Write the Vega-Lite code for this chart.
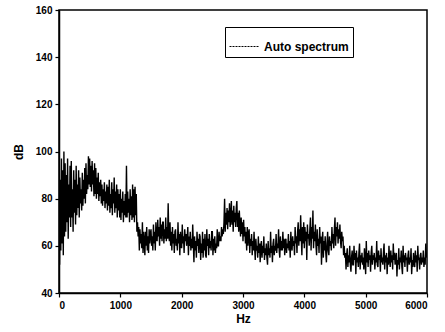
{
  "$schema": "https://vega.github.io/schema/vega-lite/v6.json",
  "autosize": {"type": "none"},
  "padding": {"left": 59, "top": 10, "right": 18, "bottom": 39},
  "width": 368,
  "height": 283,
  "background": "white",
  "config": {
    "view": {"stroke": "black", "strokeWidth": 1.5},
    "font": "Liberation Sans",
    "axis": {
      "grid": false,
      "domainColor": "black",
      "domainWidth": 1.5,
      "tickColor": "black",
      "tickWidth": 1.2,
      "tickSize": 4,
      "labelFont": "Liberation Sans",
      "labelFontWeight": "bold",
      "labelFontSize": 10,
      "labelColor": "black",
      "titleFont": "Liberation Sans",
      "titleFontWeight": "bold",
      "titleFontSize": 12,
      "titleColor": "black"
    }
  },
  "datasets": {
    "spec": [
      {"Hz":0,"dB":104},{"Hz":10,"dB":52},{"Hz":20,"dB":88},{"Hz":30,"dB":58},{"Hz":40,"dB":97},{"Hz":50,"dB":61},{"Hz":60,"dB":92},{"Hz":70,"dB":56},{"Hz":80,"dB":100},{"Hz":90,"dB":64},
      {"Hz":100,"dB":95},{"Hz":110,"dB":66},{"Hz":120,"dB":90},{"Hz":130,"dB":70},{"Hz":140,"dB":97},{"Hz":150,"dB":63},{"Hz":160,"dB":86},{"Hz":170,"dB":72},{"Hz":180,"dB":94},{"Hz":190,"dB":68},
      {"Hz":200,"dB":96},{"Hz":210,"dB":72},{"Hz":220,"dB":84},{"Hz":230,"dB":66},{"Hz":240,"dB":92},{"Hz":250,"dB":74},{"Hz":260,"dB":88},{"Hz":270,"dB":69},{"Hz":280,"dB":94},{"Hz":290,"dB":73},
      {"Hz":300,"dB":86},{"Hz":310,"dB":76},{"Hz":320,"dB":92},{"Hz":330,"dB":72},{"Hz":340,"dB":89},{"Hz":350,"dB":78},{"Hz":360,"dB":84},{"Hz":370,"dB":75},{"Hz":380,"dB":91},{"Hz":390,"dB":77},
      {"Hz":400,"dB":88},{"Hz":410,"dB":80},{"Hz":420,"dB":93},{"Hz":430,"dB":78},{"Hz":440,"dB":95},{"Hz":450,"dB":82},{"Hz":460,"dB":90},{"Hz":470,"dB":84},{"Hz":480,"dB":98},{"Hz":490,"dB":86},
      {"Hz":500,"dB":97},{"Hz":510,"dB":85},{"Hz":520,"dB":94},{"Hz":530,"dB":83},{"Hz":540,"dB":96},{"Hz":550,"dB":86},{"Hz":560,"dB":92},{"Hz":570,"dB":81},{"Hz":580,"dB":95},{"Hz":590,"dB":82},
      {"Hz":600,"dB":93},{"Hz":610,"dB":80},{"Hz":620,"dB":89},{"Hz":630,"dB":82},{"Hz":640,"dB":91},{"Hz":650,"dB":79},{"Hz":660,"dB":87},{"Hz":670,"dB":81},{"Hz":680,"dB":88},{"Hz":690,"dB":78},
      {"Hz":700,"dB":86},{"Hz":710,"dB":77},{"Hz":720,"dB":84},{"Hz":730,"dB":79},{"Hz":740,"dB":87},{"Hz":750,"dB":76},{"Hz":760,"dB":83},{"Hz":770,"dB":78},{"Hz":780,"dB":86},{"Hz":790,"dB":75},
      {"Hz":800,"dB":85},{"Hz":810,"dB":77},{"Hz":820,"dB":88},{"Hz":830,"dB":74},{"Hz":840,"dB":82},{"Hz":850,"dB":76},{"Hz":860,"dB":87},{"Hz":870,"dB":73},{"Hz":880,"dB":84},{"Hz":890,"dB":78},
      {"Hz":900,"dB":89},{"Hz":910,"dB":74},{"Hz":920,"dB":83},{"Hz":930,"dB":76},{"Hz":940,"dB":86},{"Hz":950,"dB":72},{"Hz":960,"dB":84},{"Hz":970,"dB":75},{"Hz":980,"dB":82},{"Hz":990,"dB":72},
      {"Hz":1000,"dB":84},{"Hz":1010,"dB":71},{"Hz":1020,"dB":80},{"Hz":1030,"dB":74},{"Hz":1040,"dB":83},{"Hz":1050,"dB":70},{"Hz":1060,"dB":79},{"Hz":1070,"dB":73},{"Hz":1080,"dB":82},{"Hz":1090,"dB":72},
      {"Hz":1100,"dB":94},{"Hz":1110,"dB":72},{"Hz":1120,"dB":83},{"Hz":1130,"dB":74},{"Hz":1140,"dB":80},{"Hz":1150,"dB":70},{"Hz":1160,"dB":84},{"Hz":1170,"dB":73},{"Hz":1180,"dB":81},{"Hz":1190,"dB":71},
      {"Hz":1200,"dB":86},{"Hz":1210,"dB":72},{"Hz":1220,"dB":84},{"Hz":1230,"dB":70},{"Hz":1240,"dB":85},{"Hz":1250,"dB":73},{"Hz":1260,"dB":82},{"Hz":1270,"dB":66},{"Hz":1280,"dB":70},{"Hz":1290,"dB":64},
      {"Hz":1300,"dB":68},{"Hz":1310,"dB":58},{"Hz":1320,"dB":67},{"Hz":1330,"dB":61},{"Hz":1340,"dB":65},{"Hz":1350,"dB":59},{"Hz":1360,"dB":70},{"Hz":1370,"dB":57},{"Hz":1380,"dB":66},{"Hz":1390,"dB":62},
      {"Hz":1400,"dB":56},{"Hz":1410,"dB":66},{"Hz":1420,"dB":60},{"Hz":1430,"dB":68},{"Hz":1440,"dB":58},{"Hz":1450,"dB":64},{"Hz":1460,"dB":57},{"Hz":1470,"dB":67},{"Hz":1480,"dB":61},{"Hz":1490,"dB":65},
      {"Hz":1500,"dB":67},{"Hz":1510,"dB":60},{"Hz":1520,"dB":64},{"Hz":1530,"dB":58},{"Hz":1540,"dB":69},{"Hz":1550,"dB":61},{"Hz":1560,"dB":66},{"Hz":1570,"dB":58},{"Hz":1580,"dB":70},{"Hz":1590,"dB":63},
      {"Hz":1600,"dB":62},{"Hz":1610,"dB":71},{"Hz":1620,"dB":64},{"Hz":1630,"dB":68},{"Hz":1640,"dB":60},{"Hz":1650,"dB":72},{"Hz":1660,"dB":63},{"Hz":1670,"dB":69},{"Hz":1680,"dB":62},{"Hz":1690,"dB":70},
      {"Hz":1700,"dB":70},{"Hz":1710,"dB":61},{"Hz":1720,"dB":67},{"Hz":1730,"dB":63},{"Hz":1740,"dB":72},{"Hz":1750,"dB":62},{"Hz":1760,"dB":68},{"Hz":1770,"dB":63},{"Hz":1780,"dB":78},{"Hz":1790,"dB":64},
      {"Hz":1800,"dB":62},{"Hz":1810,"dB":70},{"Hz":1820,"dB":60},{"Hz":1830,"dB":66},{"Hz":1840,"dB":58},{"Hz":1850,"dB":68},{"Hz":1860,"dB":61},{"Hz":1870,"dB":65},{"Hz":1880,"dB":57},{"Hz":1890,"dB":66},
      {"Hz":1900,"dB":67},{"Hz":1910,"dB":60},{"Hz":1920,"dB":63},{"Hz":1930,"dB":58},{"Hz":1940,"dB":70},{"Hz":1950,"dB":61},{"Hz":1960,"dB":65},{"Hz":1970,"dB":56},{"Hz":1980,"dB":66},{"Hz":1990,"dB":60},
      {"Hz":2000,"dB":59},{"Hz":2010,"dB":69},{"Hz":2020,"dB":61},{"Hz":2030,"dB":64},{"Hz":2040,"dB":57},{"Hz":2050,"dB":67},{"Hz":2060,"dB":62},{"Hz":2070,"dB":65},{"Hz":2080,"dB":60},{"Hz":2090,"dB":63},
      {"Hz":2100,"dB":68},{"Hz":2110,"dB":56},{"Hz":2120,"dB":64},{"Hz":2130,"dB":60},{"Hz":2140,"dB":66},{"Hz":2150,"dB":58},{"Hz":2160,"dB":63},{"Hz":2170,"dB":59},{"Hz":2180,"dB":69},{"Hz":2190,"dB":61},
      {"Hz":2200,"dB":53},{"Hz":2210,"dB":64},{"Hz":2220,"dB":58},{"Hz":2230,"dB":62},{"Hz":2240,"dB":55},{"Hz":2250,"dB":66},{"Hz":2260,"dB":60},{"Hz":2270,"dB":63},{"Hz":2280,"dB":57},{"Hz":2290,"dB":65},
      {"Hz":2300,"dB":64},{"Hz":2310,"dB":54},{"Hz":2320,"dB":61},{"Hz":2330,"dB":57},{"Hz":2340,"dB":66},{"Hz":2350,"dB":55},{"Hz":2360,"dB":63},{"Hz":2370,"dB":58},{"Hz":2380,"dB":65},{"Hz":2390,"dB":56},
      {"Hz":2400,"dB":55},{"Hz":2410,"dB":67},{"Hz":2420,"dB":60},{"Hz":2430,"dB":63},{"Hz":2440,"dB":56},{"Hz":2450,"dB":65},{"Hz":2460,"dB":59},{"Hz":2470,"dB":62},{"Hz":2480,"dB":58},{"Hz":2490,"dB":66},
      {"Hz":2500,"dB":66},{"Hz":2510,"dB":56},{"Hz":2520,"dB":63},{"Hz":2530,"dB":58},{"Hz":2540,"dB":64},{"Hz":2550,"dB":57},{"Hz":2560,"dB":61},{"Hz":2570,"dB":59},{"Hz":2580,"dB":67},{"Hz":2590,"dB":60},
      {"Hz":2600,"dB":60},{"Hz":2610,"dB":66},{"Hz":2620,"dB":62},{"Hz":2630,"dB":64},{"Hz":2640,"dB":62},{"Hz":2650,"dB":68},{"Hz":2660,"dB":64},{"Hz":2670,"dB":67},{"Hz":2680,"dB":65},{"Hz":2690,"dB":70},
      {"Hz":2700,"dB":80},{"Hz":2710,"dB":66},{"Hz":2720,"dB":74},{"Hz":2730,"dB":69},{"Hz":2740,"dB":76},{"Hz":2750,"dB":67},{"Hz":2760,"dB":75},{"Hz":2770,"dB":70},{"Hz":2780,"dB":78},{"Hz":2790,"dB":68},
      {"Hz":2800,"dB":72},{"Hz":2810,"dB":79},{"Hz":2820,"dB":69},{"Hz":2830,"dB":75},{"Hz":2840,"dB":66},{"Hz":2850,"dB":77},{"Hz":2860,"dB":70},{"Hz":2870,"dB":74},{"Hz":2880,"dB":68},{"Hz":2890,"dB":76},
      {"Hz":2900,"dB":79},{"Hz":2910,"dB":68},{"Hz":2920,"dB":74},{"Hz":2930,"dB":66},{"Hz":2940,"dB":75},{"Hz":2950,"dB":69},{"Hz":2960,"dB":64},{"Hz":2970,"dB":72},{"Hz":2980,"dB":65},{"Hz":2990,"dB":70},
      {"Hz":3000,"dB":62},{"Hz":3010,"dB":71},{"Hz":3020,"dB":64},{"Hz":3030,"dB":68},{"Hz":3040,"dB":61},{"Hz":3050,"dB":66},{"Hz":3060,"dB":58},{"Hz":3070,"dB":68},{"Hz":3080,"dB":60},{"Hz":3090,"dB":65},
      {"Hz":3100,"dB":67},{"Hz":3110,"dB":57},{"Hz":3120,"dB":63},{"Hz":3130,"dB":60},{"Hz":3140,"dB":65},{"Hz":3150,"dB":56},{"Hz":3160,"dB":62},{"Hz":3170,"dB":58},{"Hz":3180,"dB":66},{"Hz":3190,"dB":59},
      {"Hz":3200,"dB":54},{"Hz":3210,"dB":63},{"Hz":3220,"dB":58},{"Hz":3230,"dB":60},{"Hz":3240,"dB":55},{"Hz":3250,"dB":64},{"Hz":3260,"dB":57},{"Hz":3270,"dB":61},{"Hz":3280,"dB":53},{"Hz":3290,"dB":60},
      {"Hz":3300,"dB":62},{"Hz":3310,"dB":55},{"Hz":3320,"dB":60},{"Hz":3330,"dB":57},{"Hz":3340,"dB":64},{"Hz":3350,"dB":54},{"Hz":3360,"dB":59},{"Hz":3370,"dB":56},{"Hz":3380,"dB":61},{"Hz":3390,"dB":55},
      {"Hz":3400,"dB":52},{"Hz":3410,"dB":62},{"Hz":3420,"dB":56},{"Hz":3430,"dB":59},{"Hz":3440,"dB":55},{"Hz":3450,"dB":66},{"Hz":3460,"dB":57},{"Hz":3470,"dB":60},{"Hz":3480,"dB":53},{"Hz":3490,"dB":61},
      {"Hz":3500,"dB":63},{"Hz":3510,"dB":56},{"Hz":3520,"dB":60},{"Hz":3530,"dB":58},{"Hz":3540,"dB":65},{"Hz":3550,"dB":57},{"Hz":3560,"dB":61},{"Hz":3570,"dB":59},{"Hz":3580,"dB":67},{"Hz":3590,"dB":58},
      {"Hz":3600,"dB":55},{"Hz":3610,"dB":64},{"Hz":3620,"dB":58},{"Hz":3630,"dB":62},{"Hz":3640,"dB":58},{"Hz":3650,"dB":66},{"Hz":3660,"dB":59},{"Hz":3670,"dB":63},{"Hz":3680,"dB":56},{"Hz":3690,"dB":62},
      {"Hz":3700,"dB":63},{"Hz":3710,"dB":57},{"Hz":3720,"dB":61},{"Hz":3730,"dB":59},{"Hz":3740,"dB":65},{"Hz":3750,"dB":58},{"Hz":3760,"dB":62},{"Hz":3770,"dB":55},{"Hz":3780,"dB":66},{"Hz":3790,"dB":60},
      {"Hz":3800,"dB":58},{"Hz":3810,"dB":64},{"Hz":3820,"dB":60},{"Hz":3830,"dB":62},{"Hz":3840,"dB":56},{"Hz":3850,"dB":68},{"Hz":3860,"dB":61},{"Hz":3870,"dB":64},{"Hz":3880,"dB":57},{"Hz":3890,"dB":66},
      {"Hz":3900,"dB":70},{"Hz":3910,"dB":60},{"Hz":3920,"dB":67},{"Hz":3930,"dB":62},{"Hz":3940,"dB":73},{"Hz":3950,"dB":64},{"Hz":3960,"dB":56},{"Hz":3970,"dB":68},{"Hz":3980,"dB":61},{"Hz":3990,"dB":70},
      {"Hz":4000,"dB":59},{"Hz":4010,"dB":68},{"Hz":4020,"dB":62},{"Hz":4030,"dB":66},{"Hz":4040,"dB":54},{"Hz":4050,"dB":69},{"Hz":4060,"dB":63},{"Hz":4070,"dB":65},{"Hz":4080,"dB":60},{"Hz":4090,"dB":67},
      {"Hz":4100,"dB":72},{"Hz":4110,"dB":58},{"Hz":4120,"dB":68},{"Hz":4130,"dB":63},{"Hz":4140,"dB":75},{"Hz":4150,"dB":59},{"Hz":4160,"dB":66},{"Hz":4170,"dB":62},{"Hz":4180,"dB":69},{"Hz":4190,"dB":60},
      {"Hz":4200,"dB":56},{"Hz":4210,"dB":67},{"Hz":4220,"dB":60},{"Hz":4230,"dB":63},{"Hz":4240,"dB":57},{"Hz":4250,"dB":68},{"Hz":4260,"dB":61},{"Hz":4270,"dB":64},{"Hz":4280,"dB":52},{"Hz":4290,"dB":62},
      {"Hz":4300,"dB":66},{"Hz":4310,"dB":55},{"Hz":4320,"dB":62},{"Hz":4330,"dB":58},{"Hz":4340,"dB":64},{"Hz":4350,"dB":57},{"Hz":4360,"dB":53},{"Hz":4370,"dB":61},{"Hz":4380,"dB":66},{"Hz":4390,"dB":58},
      {"Hz":4400,"dB":56},{"Hz":4410,"dB":64},{"Hz":4420,"dB":60},{"Hz":4430,"dB":62},{"Hz":4440,"dB":58},{"Hz":4450,"dB":68},{"Hz":4460,"dB":61},{"Hz":4470,"dB":65},{"Hz":4480,"dB":59},{"Hz":4490,"dB":67},
      {"Hz":4500,"dB":72},{"Hz":4510,"dB":60},{"Hz":4520,"dB":68},{"Hz":4530,"dB":64},{"Hz":4540,"dB":70},{"Hz":4550,"dB":61},{"Hz":4560,"dB":67},{"Hz":4570,"dB":63},{"Hz":4580,"dB":69},{"Hz":4590,"dB":62},
      {"Hz":4600,"dB":59},{"Hz":4610,"dB":66},{"Hz":4620,"dB":62},{"Hz":4630,"dB":64},{"Hz":4640,"dB":56},{"Hz":4650,"dB":60},{"Hz":4660,"dB":55},{"Hz":4670,"dB":57},{"Hz":4680,"dB":50},{"Hz":4690,"dB":56},
      {"Hz":4700,"dB":59},{"Hz":4710,"dB":51},{"Hz":4720,"dB":56},{"Hz":4730,"dB":53},{"Hz":4740,"dB":60},{"Hz":4750,"dB":52},{"Hz":4760,"dB":49},{"Hz":4770,"dB":55},{"Hz":4780,"dB":58},{"Hz":4790,"dB":52},
      {"Hz":4800,"dB":52},{"Hz":4810,"dB":60},{"Hz":4820,"dB":54},{"Hz":4830,"dB":57},{"Hz":4840,"dB":48},{"Hz":4850,"dB":58},{"Hz":4860,"dB":53},{"Hz":4870,"dB":55},{"Hz":4880,"dB":51},{"Hz":4890,"dB":57},
      {"Hz":4900,"dB":61},{"Hz":4910,"dB":50},{"Hz":4920,"dB":56},{"Hz":4930,"dB":53},{"Hz":4940,"dB":57},{"Hz":4950,"dB":52},{"Hz":4960,"dB":55},{"Hz":4970,"dB":50},{"Hz":4980,"dB":59},{"Hz":4990,"dB":54},
      {"Hz":5000,"dB":48},{"Hz":5010,"dB":62},{"Hz":5020,"dB":53},{"Hz":5030,"dB":57},{"Hz":5040,"dB":51},{"Hz":5050,"dB":58},{"Hz":5060,"dB":54},{"Hz":5070,"dB":56},{"Hz":5080,"dB":49},{"Hz":5090,"dB":57},
      {"Hz":5100,"dB":60},{"Hz":5110,"dB":52},{"Hz":5120,"dB":56},{"Hz":5130,"dB":54},{"Hz":5140,"dB":57},{"Hz":5150,"dB":50},{"Hz":5160,"dB":55},{"Hz":5170,"dB":53},{"Hz":5180,"dB":62},{"Hz":5190,"dB":52},
      {"Hz":5200,"dB":51},{"Hz":5210,"dB":58},{"Hz":5220,"dB":54},{"Hz":5230,"dB":56},{"Hz":5240,"dB":49},{"Hz":5250,"dB":59},{"Hz":5260,"dB":53},{"Hz":5270,"dB":55},{"Hz":5280,"dB":52},{"Hz":5290,"dB":57},
      {"Hz":5300,"dB":61},{"Hz":5310,"dB":50},{"Hz":5320,"dB":56},{"Hz":5330,"dB":53},{"Hz":5340,"dB":57},{"Hz":5350,"dB":48},{"Hz":5360,"dB":55},{"Hz":5370,"dB":52},{"Hz":5380,"dB":60},{"Hz":5390,"dB":54},
      {"Hz":5400,"dB":51},{"Hz":5410,"dB":58},{"Hz":5420,"dB":53},{"Hz":5430,"dB":56},{"Hz":5440,"dB":50},{"Hz":5450,"dB":61},{"Hz":5460,"dB":54},{"Hz":5470,"dB":57},{"Hz":5480,"dB":52},{"Hz":5490,"dB":55},
      {"Hz":5500,"dB":57},{"Hz":5510,"dB":47},{"Hz":5520,"dB":54},{"Hz":5530,"dB":52},{"Hz":5540,"dB":59},{"Hz":5550,"dB":50},{"Hz":5560,"dB":55},{"Hz":5570,"dB":53},{"Hz":5580,"dB":58},{"Hz":5590,"dB":51},
      {"Hz":5600,"dB":48},{"Hz":5610,"dB":60},{"Hz":5620,"dB":53},{"Hz":5630,"dB":56},{"Hz":5640,"dB":51},{"Hz":5650,"dB":57},{"Hz":5660,"dB":54},{"Hz":5670,"dB":55},{"Hz":5680,"dB":49},{"Hz":5690,"dB":56},
      {"Hz":5700,"dB":58},{"Hz":5710,"dB":52},{"Hz":5720,"dB":55},{"Hz":5730,"dB":53},{"Hz":5740,"dB":59},{"Hz":5750,"dB":48},{"Hz":5760,"dB":54},{"Hz":5770,"dB":51},{"Hz":5780,"dB":57},{"Hz":5790,"dB":53},
      {"Hz":5800,"dB":51},{"Hz":5810,"dB":58},{"Hz":5820,"dB":53},{"Hz":5830,"dB":56},{"Hz":5840,"dB":49},{"Hz":5850,"dB":60},{"Hz":5860,"dB":54},{"Hz":5870,"dB":55},{"Hz":5880,"dB":50},{"Hz":5890,"dB":56},
      {"Hz":5900,"dB":57},{"Hz":5910,"dB":52},{"Hz":5920,"dB":55},{"Hz":5930,"dB":53},{"Hz":5940,"dB":58},{"Hz":5950,"dB":51},{"Hz":5960,"dB":55},{"Hz":5970,"dB":52},{"Hz":5980,"dB":61},{"Hz":5990,"dB":56},
      {"Hz":6000,"dB":55}
    ]
  },
  "data": {"name": "spec"},
  "transform": [{"calculate": "'Auto spectrum'", "as": "series"}],
  "mark": {"type": "line", "strokeWidth": 1.4, "clip": true},
  "encoding": {
    "x": {
      "field": "Hz", "type": "quantitative",
      "scale": {"domain": [0, 6000], "nice": false},
      "axis": {"values": [0, 1000, 2000, 3000, 4000, 5000, 6000], "format": "d", "title": "Hz", "labelPadding": 3, "titlePadding": 3}
    },
    "y": {
      "field": "dB", "type": "quantitative",
      "scale": {"domain": [40, 160], "nice": false},
      "axis": {"values": [40, 60, 80, 100, 120, 140, 160], "title": "dB", "labelPadding": 3, "titlePadding": 10}
    },
    "color": {
      "field": "series", "type": "nominal",
      "scale": {"range": ["black"]},
      "legend": {
        "title": null,
        "orient": "none",
        "legendX": 166,
        "legendY": 17,
        "direction": "vertical",
        "strokeColor": "black",
        "fillColor": "white",
        "padding": 4,
        "symbolType": "stroke",
        "symbolSize": 900,
        "symbolStrokeWidth": 1,
        "symbolDash": [2, 1],
        "labelFont": "Liberation Sans",
        "labelFontWeight": "bold",
        "labelFontSize": 12,
        "labelColor": "black"
      }
    }
  }
}
